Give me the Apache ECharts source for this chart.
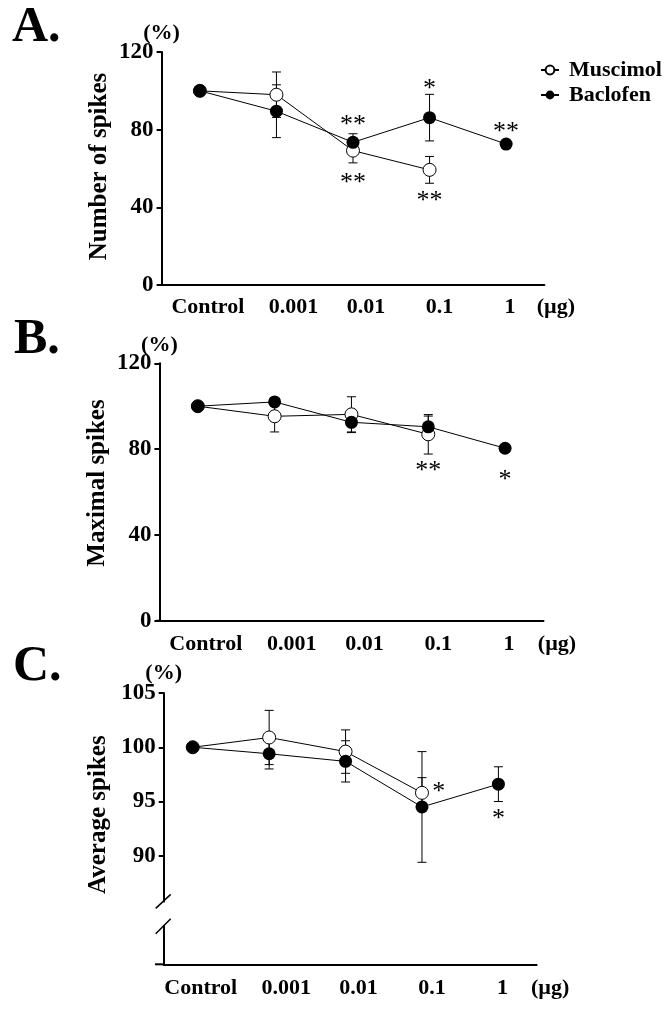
<!DOCTYPE html>
<html><head><meta charset="utf-8">
<script src="https://cdn.jsdelivr.net/npm/echarts@6/dist/echarts.min.js"></script>
<style>html,body{margin:0;padding:0;background:#fff}#c{width:672px;height:1013px}</style>
</head><body><div id="c"></div>
<script>
// ---------- data ----------
const categories = ['Control', '0.001', '0.01', '0.1', '1'];
const unitLabel = '(µg)';
const yTicksAB = [0, 40, 80, 120];
const yTicksC = [90, 95, 100, 105];

// Panel A: Number of spikes (%)
const muscimolA    = [100, 98.0, 69.2, 59.3, null];
const muscimolA_se = [0, 11.7, 6.3, 6.9, null];
const baclofenA    = [100, 89.5, 73.5, 86.2, 72.6];
const baclofenA_se = [0, 13.6, 4.4, 12.0, 0];
const starsA = [[2, 84.5, '**'], [2, 54.4, '**'], [3, 102.9, '*'], [3, 45.0, '**'], [4, 80.8, '**']];

// Panel B: Maximal spikes (%)
const muscimolB    = [100, 95.3, 96.2, 86.9, null];
const muscimolB_se = [0, 7.3, 8.2, 9.2, null];
const baclofenB    = [100, 102.0, 92.5, 90.4, 80.4];
const baclofenB_se = [0, 0, 4.8, 5.0, 0];
const starsB = [[3, 71.8, '**'], [4, 67.6, '*']];

// Panel C: Average spikes (%)
const muscimolC    = [100, 100.9, 99.6, 95.8, null];
const muscimolC_se = [0, 2.5, 2.0, 1.4, null];
const baclofenC    = [100, 99.4, 98.7, 94.5, 96.6];
const baclofenC_se = [0, 1.4, 1.9, 5.1, 1.6];
const starsC = [[3.22, 96.2, '*'], [4, 93.7, '*']];
const breakC = [83.5, 85.8];

// ---------- style ----------
const FONT = '"Liberation Serif", "Times New Roman", serif';
const labelShift = [16, 34, 26, 20, 8];

function makeRich(unitPad) {
  const rich = {};
  labelShift.forEach((p, i) => {
    rich['c' + i] = { fontFamily: FONT, fontWeight: 'bold', fontSize: 22, color: '#000', padding: [0, 0, 0, p] };
  });
  rich.u = { fontFamily: FONT, fontWeight: 'bold', fontSize: 22, color: '#000', padding: [0, 0, 0, unitPad] };
  return rich;
}

function toPts(arr) { return arr.map((v, i) => v == null ? null : [i, v]); }
function toErr(arr, se) {
  const out = [];
  arr.forEach((v, i) => { if (v != null && se[i] > 0) out.push([i, v, se[i]]); });
  return out;
}

function makeX(g, min, max, margin, unitPad) {
  return {
    gridIndex: g, type: 'value', min: min, max: max,
    axisLine: { onZero: false, lineStyle: { color: '#000', width: 2 } },
    axisTick: { show: false }, splitLine: { show: false },
    axisLabel: {
      customValues: [0, 1, 2, 3, 4, max], margin: margin, showMinLabel: true, showMaxLabel: true, hideOverlap: false,
      formatter: v => {
        if (Math.abs(v - max) < 1e-6) return '{u|' + unitLabel + '}';
        const i = Math.round(v); return '{c' + i + '|' + categories[i] + '}';
      },
      rich: makeRich(unitPad)
    }
  };
}
function makeY(g, min, max, interval, ticks, nameGap) {
  return {
    gridIndex: g, type: 'value', min: min, max: max, interval: interval,
    axisLine: { show: true, onZero: false, lineStyle: { color: '#000', width: 2 } },
    axisTick: { show: true, length: 5, customValues: ticks, lineStyle: { color: '#000', width: 2 } },
    axisLabel: { customValues: ticks, margin: 8, fontFamily: FONT, fontWeight: 'bold', fontSize: 23, color: '#000' },
    splitLine: { show: false },
    name: '(%)', nameLocation: 'end', nameGap: nameGap, nameMoveOverlap: false,
    nameTextStyle: { fontFamily: FONT, fontWeight: 'bold', fontSize: 22, color: '#000' }
  };
}
function makeYTitle(g, min, max, title, gap, up) {
  return {
    gridIndex: g, type: 'value', min: min, max: max, position: 'left',
    axisLine: { show: false }, axisTick: { show: false }, axisLabel: { show: false }, splitLine: { show: false },
    name: title, nameLocation: 'middle', nameGap: gap, nameMoveOverlap: false,
    nameTextStyle: { fontFamily: FONT, fontWeight: 'bold', fontSize: 25, color: '#000', padding: [0, 0, 0, up * 2] }
  };
}

function errSeries(xi, yi, data) {
  return {
    type: 'custom', xAxisIndex: xi, yAxisIndex: yi, z: 1, clip: false, silent: true,
    data: data,
    renderItem: (params, api) => {
      const x = api.value(0), m = api.value(1), s = api.value(2);
      const t = api.coord([x, m + s]), b = api.coord([x, m - s]);
      const hw = 4.5, st = { stroke: '#000', lineWidth: 1 };
      return { type: 'group', children: [
        { type: 'line', shape: { x1: t[0], y1: t[1], x2: b[0], y2: b[1] }, style: st },
        { type: 'line', shape: { x1: t[0] - hw, y1: t[1], x2: t[0] + hw, y2: t[1] }, style: st },
        { type: 'line', shape: { x1: b[0] - hw, y1: b[1], x2: b[0] + hw, y2: b[1] }, style: st }
      ] };
    }
  };
}
function lineSeries(name, xi, yi, arr, open) {
  return {
    name: name, type: 'line', xAxisIndex: xi, yAxisIndex: yi, z: 3,
    data: toPts(arr), symbol: 'circle', symbolSize: 13, showSymbol: true,
    lineStyle: { color: '#000', width: 1 },
    itemStyle: open ? { color: '#fff', borderColor: '#000', borderWidth: 1 } : { color: '#000', borderColor: '#000', borderWidth: 0 },
    emphasis: { disabled: true }, animation: false
  };
}
function starSeries(xi, yi, stars) {
  return {
    type: 'custom', xAxisIndex: xi, yAxisIndex: yi, z: 4, clip: false, silent: true,
    data: stars.map(s => [s[0], s[1]]),
    renderItem: (params, api) => {
      const p = api.coord([api.value(0), api.value(1)]);
      return { type: 'text', x: p[0], y: p[1] + 4,
        style: { text: stars[params.dataIndex][2], fill: '#000', font: '26px ' + FONT, align: 'center', verticalAlign: 'middle' } };
    }
  };
}
function decoSeries(xi, yi, xMin, yMin, ext, brk) {
  return {
    type: 'custom', xAxisIndex: xi, yAxisIndex: yi, z: 5, clip: false, silent: true,
    data: [[xMin, yMin]],
    renderItem: (params, api) => {
      const o = api.coord([xMin, yMin]);
      const st = { stroke: '#000', lineWidth: 2 };
      const ch = [{ type: 'line', shape: { x1: o[0] - ext, y1: o[1], x2: o[0], y2: o[1] }, style: st }];
      if (brk) {
        const a = api.coord([xMin, brk[1]]), b = api.coord([xMin, brk[0]]);
        ch.push({ type: 'rect', shape: { x: o[0] - 3, y: a[1] + 1, width: 6, height: b[1] - a[1] - 2 }, style: { fill: '#fff' } });
        ch.push({ type: 'line', shape: { x1: a[0] - 8, y1: a[1] + 7, x2: a[0] + 7, y2: a[1] - 7 }, style: { stroke: '#000', lineWidth: 1.5 } });
        ch.push({ type: 'line', shape: { x1: b[0] - 8, y1: b[1] + 7.5, x2: b[0] + 7, y2: b[1] - 7.5 }, style: { stroke: '#000', lineWidth: 1.5 } });
      }
      return { type: 'group', children: ch };
    }
  };
}

const letterStyle = { fontFamily: FONT, fontWeight: 'bold', fontSize: 50, color: '#000' };

const option = {
  animation: false,
  backgroundColor: '#fff',
  title: [
    { text: 'A.', left: 12, top: 3, padding: 0, textStyle: letterStyle },
    { text: 'B.', left: 14, top: 315, padding: 0, textStyle: letterStyle },
    { text: 'C.', left: 13, top: 642, padding: 0, textStyle: letterStyle }
  ],
  legend: {
    data: ['Muscimol', 'Baclofen'], orient: 'vertical', left: 535, top: 54,
    itemWidth: 18, itemHeight: 11, itemGap: 3, selectedMode: false,
    textStyle: { fontFamily: FONT, fontWeight: 'bold', fontSize: 22, color: '#000', padding: [0, 0, 0, 5] }
  },
  grid: [
    { left: 161.6, top: 52, width: 382.8, height: 233, outerBoundsMode: 'none' },
    { left: 159.4, top: 363.3, width: 384.1, height: 257.4, outerBoundsMode: 'none' },
    { left: 163.7, top: 693, width: 372.9, height: 271.3, outerBoundsMode: 'none' }
  ],
  xAxis: [
    makeX(0, -0.5, 4.5, 11, 23),
    makeX(1, -0.5, 4.5, 13, 27),
    makeX(2, -0.38, 4.5, 13, 27)
  ],
  yAxis: [
    makeY(0, 0, 120, 40, yTicksAB, 8),
    makeYTitle(0, 0, 120, 'Number of spikes', 50, 2),
    makeY(1, 0, 120, 40, yTicksAB, 7),
    makeYTitle(1, 0, 120, 'Maximal spikes', 49, 9),
    makeY(2, 80, 105, 5, yTicksC, 9),
    makeYTitle(2, 80, 105, 'Average spikes', 53, 14)
  ],
  series: [
    errSeries(0, 0, toErr(muscimolA, muscimolA_se)),
    errSeries(0, 0, toErr(baclofenA, baclofenA_se)),
    lineSeries('Muscimol', 0, 0, muscimolA, true),
    lineSeries('Baclofen', 0, 0, baclofenA, false),
    starSeries(0, 0, starsA),
    decoSeries(0, 0, -0.5, 0, 4.5, null),

    errSeries(1, 2, toErr(muscimolB, muscimolB_se)),
    errSeries(1, 2, toErr(baclofenB, baclofenB_se)),
    lineSeries('Muscimol', 1, 2, muscimolB, true),
    lineSeries('Baclofen', 1, 2, baclofenB, false),
    starSeries(1, 2, starsB),
    decoSeries(1, 2, -0.5, 0, 3, null),

    errSeries(2, 4, toErr(muscimolC, muscimolC_se)),
    errSeries(2, 4, toErr(baclofenC, baclofenC_se)),
    lineSeries('Muscimol', 2, 4, muscimolC, true),
    lineSeries('Baclofen', 2, 4, baclofenC, false),
    starSeries(2, 4, starsC),
    decoSeries(2, 4, -0.38, 80, 8.7, breakC)
  ]
};

const chart = echarts.init(document.getElementById('c'), null, { renderer: 'canvas' });
chart.setOption(option);
</script>
</body></html>
